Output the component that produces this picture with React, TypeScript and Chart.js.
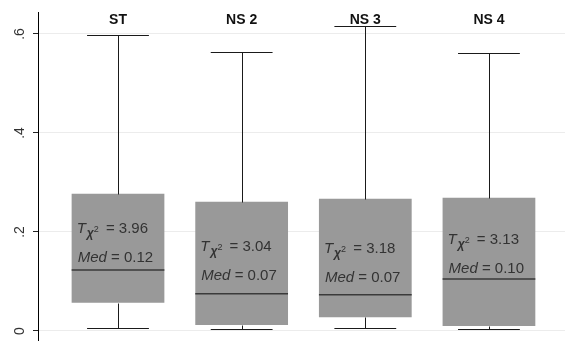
import React, { useEffect, useRef } from "react";
import { Chart, registerables } from "chart.js";

Chart.register(...registerables);

const categories = ["ST", "NS 2", "NS 3", "NS 4"];
const whiskerLow = [0.006, 0.004, 0.006, 0.004];
const quartile1 = [0.057, 0.012, 0.028, 0.01];
const medians = [0.123, 0.075, 0.073, 0.105];
const quartile3 = [0.277, 0.261, 0.267, 0.269];
const whiskerHigh = [0.598, 0.564, 0.616, 0.562];
const chiStats = ["3.96", "3.04", "3.18", "3.13"];
const medianLabels = ["0.12", "0.07", "0.07", "0.10"];
// y value (data units) of the "Med = ..." text baseline
const labelAnchors = [0.139, 0.103, 0.099, 0.117];
const yTicks = [0, 0.2, 0.4, 0.6];
const yTickLabels = ["0", ".2", ".4", ".6"];

const FONT = '"Liberation Sans", Arial, sans-serif';

const boxPlugin = {
  id: "boxDecor",
  afterDatasetsDraw(chart: any) {
    const { ctx } = chart;
    const x = chart.scales.x;
    const y = chart.scales.y;
    const meta = chart.getDatasetMeta(0);
    ctx.save();
    categories.forEach((_c, i) => {
      const bar = meta.data[i];
      const boxL = bar.x - bar.width / 2;
      const boxR = bar.x + bar.width / 2;
      const cx = Math.round(x.getPixelForValue(i)) + 0.5;
      const capL = x.getPixelForValue(i - 0.25);
      const capR = x.getPixelForValue(i + 0.25);
      const py = (v: number) => Math.round(y.getPixelForValue(v)) + 0.5;
      ctx.strokeStyle = "#1a1a1a";
      ctx.lineWidth = 1;
      ctx.beginPath();
      ctx.moveTo(cx, py(quartile3[i]));
      ctx.lineTo(cx, py(whiskerHigh[i]));
      ctx.moveTo(capL, py(whiskerHigh[i]));
      ctx.lineTo(capR, py(whiskerHigh[i]));
      ctx.moveTo(cx, py(quartile1[i]));
      ctx.lineTo(cx, py(whiskerLow[i]));
      ctx.moveTo(capL, py(whiskerLow[i]));
      ctx.lineTo(capR, py(whiskerLow[i]));
      ctx.stroke();
      // median
      ctx.strokeStyle = "#3a3a3a";
      ctx.lineWidth = 1.5;
      ctx.beginPath();
      ctx.moveTo(boxL, y.getPixelForValue(medians[i]));
      ctx.lineTo(boxR, y.getPixelForValue(medians[i]));
      ctx.stroke();

      // annotation text
      const tx = boxL + 5;
      const medBase = y.getPixelForValue(labelAnchors[i]);
      const tBase = medBase - 29;
      ctx.fillStyle = "#333333";
      ctx.textAlign = "left";
      ctx.textBaseline = "alphabetic";
      let cxp = tx;
      ctx.font = `italic 15px ${FONT}`;
      ctx.fillText("T", cxp, tBase);
      cxp += ctx.measureText("T").width + 1;
      ctx.font = `italic bold 12px ${FONT}`;
      ctx.fillText("\u03C7", cxp, tBase + 4);
      cxp += ctx.measureText("\u03C7").width;
      ctx.font = `9px ${FONT}`;
      ctx.fillText("2", cxp, tBase - 1);
      cxp += ctx.measureText("2").width + 3;
      ctx.font = `15px ${FONT}`;
      ctx.fillText(" = " + chiStats[i], cxp, tBase);

      let mx = tx + 1;
      ctx.font = `italic 15px ${FONT}`;
      ctx.fillText("Med", mx, medBase);
      mx += ctx.measureText("Med").width;
      ctx.font = `15px ${FONT}`;
      ctx.fillText(" = " + medianLabels[i], mx, medBase);

      // category title
      ctx.fillStyle = "#111111";
      ctx.font = `bold 14px ${FONT}`;
      ctx.textAlign = "center";
      ctx.textBaseline = "alphabetic";
      ctx.fillText(categories[i], x.getPixelForValue(i), chart.chartArea.top + 12);
    });

    // y tick labels (rotated)
    ctx.fillStyle = "#333333";
    ctx.font = `14px ${FONT}`;
    ctx.textAlign = "center";
    ctx.textBaseline = "middle";
    yTicks.forEach((v, k) => {
      ctx.save();
      ctx.translate(20.5, y.getPixelForValue(v));
      ctx.rotate(-Math.PI / 2);
      ctx.fillText(yTickLabels[k], 0, 0);
      ctx.restore();
    });
    ctx.restore();
  },
};

export default function App() {
  const ref = useRef<HTMLCanvasElement | null>(null);
  useEffect(() => {
    if (!ref.current) return;
    const chart = new Chart(ref.current, {
      type: "bar",
      data: {
        datasets: [
          {
            data: categories.map((_c, i) => ({ x: i, y: [quartile1[i], quartile3[i]] })) as any,
            backgroundColor: "#999999",
            borderWidth: 0,
            categoryPercentage: 1,
            barPercentage: 0.75,
          },
        ],
      },
      options: {
        responsive: false,
        animation: false,
        layout: { padding: { top: 12, bottom: 2, left: 0, right: 0 } },
        plugins: { legend: { display: false }, tooltip: { enabled: false } },
        scales: {
          x: {
            type: "linear",
            display: false,
            offset: false,
            min: -0.647,
            max: 3.615,
            afterBuildTicks: (s: any) => {
              s.ticks = categories.map((_c, i) => ({ value: i }));
            },
          },
          y: {
            type: "linear",
            min: -0.0182,
            max: 0.6444,
            afterBuildTicks: (s: any) => {
              s.ticks = yTicks.map((v) => ({ value: v }));
            },
            afterFit: (s: any) => {
              s.width = 38;
            },
            ticks: { display: false },
            grid: {
              color: "#ececec",
              tickColor: "#222222",
              tickLength: 5,
              drawTicks: true,
            },
            border: { display: true, color: "#000000", width: 1 },
          },
        },
      },
      plugins: [boxPlugin],
    });
    return () => chart.destroy();
  }, []);
  return (
    <div style={{ position: "absolute", left: 0, top: 0, width: 565, height: 342, background: "#fff" }}>
      <canvas ref={ref} width={565} height={342} />
    </div>
  );
}
